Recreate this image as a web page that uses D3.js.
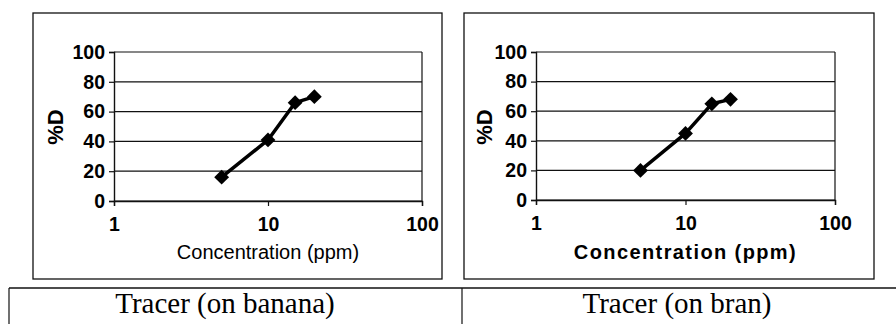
<!DOCTYPE html>
<html>
<head>
<meta charset="utf-8">
<script src="https://cdn.jsdelivr.net/npm/d3@7"></script>
<style>
body { margin: 0; background: #fff; }
svg { display: block; }
</style>
</head>
<body>
<div id="chart"></div>
<script>
// values
var concentration = [5, 10, 15, 20];
var bananaD = [16, 41, 66, 70];
var branD = [20, 45, 65, 68];
var xTicks = [1, 10, 100];
var yTicks = [0, 20, 40, 60, 80, 100];
var panelTitles = ["Tracer (on banana)", "Tracer (on bran)"];

var W = 896, H = 324;
var svg = d3.select("#chart").append("svg").attr("width", W).attr("height", H);

function drawPanel(cfg) {
	var g = svg.append("g");

	// outer chart box
	g.append("rect").attr("x", cfg.box[0]).attr("y", 13)
		.attr("width", cfg.box[1] - cfg.box[0]).attr("height", 279 - 13)
		.attr("fill", "none").attr("stroke", "#111").attr("stroke-width", 1.3);

	var xScale = d3.scaleLog().domain([1, 100]).range([cfg.left, cfg.right]);
	var yScale = d3.scaleLinear().domain([0, 100]).range([cfg.bottom, 52]);

	// gridlines
	g.append("g").selectAll("line").data(yTicks).enter().append("line")
		.attr("x1", cfg.left).attr("x2", cfg.right)
		.attr("y1", d => yScale(d)).attr("y2", d => yScale(d))
		.attr("stroke", "#111").attr("stroke-width", 1.2);
	// right border of plot area
	g.append("line").attr("x1", cfg.right).attr("x2", cfg.right)
		.attr("y1", 52).attr("y2", cfg.bottom).attr("stroke", "#111").attr("stroke-width", 1.2);

	var yAxis = g.append("g").attr("transform", "translate(" + cfg.left + ",0)")
		.call(d3.axisLeft(yScale).tickValues(yTicks).tickSize(5).tickPadding(4));
	var xAxis = g.append("g").attr("transform", "translate(0," + cfg.bottom + ")")
		.call(d3.axisBottom(xScale).tickValues(xTicks).tickFormat(d3.format("d")).tickSize(5).tickPadding(11));
	[yAxis, xAxis].forEach(function(a) {
		a.select(".domain").attr("stroke", "#111").attr("stroke-width", 1.4);
		a.selectAll(".tick line").attr("stroke", "#111").attr("stroke-width", 1.2);
		a.selectAll("text").attr("fill", "#000")
			.style("font-family", "'Liberation Sans', Arial, sans-serif").style("font-size", "19.5px")
			.style("font-weight", "bold");
	});

	// axis titles
	g.append("text").attr("transform", "translate(" + (cfg.ytitleX) + ",127) rotate(-90)")
		.attr("text-anchor", "middle").attr("dy", "0.35em")
		.style("font-family", "'Liberation Sans', Arial, sans-serif").style("font-size", "22px")
		.style("font-weight", "bold").text("%D");
	g.append("text").attr("x", xScale(10)).attr("y", 259)
		.attr("text-anchor", "middle")
		.style("font-family", "'Liberation Sans', Arial, sans-serif").style("font-size", "20px")
		.style("font-weight", cfg.boldTitle ? "bold" : "normal")
		.style("letter-spacing", cfg.boldTitle ? "1.4px" : "0px")
		.text("Concentration (ppm)");

	var pts = concentration.map((c, i) => [c, cfg.values[i]]);
	var line = d3.line().x(d => xScale(d[0])).y(d => yScale(d[1]));
	g.append("path").attr("d", line(pts)).attr("fill", "none")
		.attr("stroke", "#000").attr("stroke-width", 3.5).attr("stroke-linejoin", "round");

	var sym = d3.symbol().type(d3.symbolSquare).size(110);
	g.append("g").selectAll("path").data(pts).enter().append("path")
		.attr("d", sym)
		.attr("transform", d => "translate(" + xScale(d[0]) + "," + yScale(d[1]) + ") rotate(45)")
		.attr("fill", "#000");
}

drawPanel({ box: [33, 442], left: 114, right: 422, bottom: 201, ytitleX: 55, values: bananaD, boldTitle: false });
drawPanel({ box: [464, 874], left: 536, right: 835, bottom: 200, ytitleX: 484, values: branD, boldTitle: true });

// caption table
var table = svg.append("g");
table.append("line").attr("x1", 9).attr("x2", W).attr("y1", 288).attr("y2", 288)
	.attr("stroke", "#111").attr("stroke-width", 1.6);
table.append("line").attr("x1", 9).attr("x2", 9).attr("y1", 288).attr("y2", H)
	.attr("stroke", "#111").attr("stroke-width", 1.2);
table.append("line").attr("x1", 462).attr("x2", 462).attr("y1", 288).attr("y2", H)
	.attr("stroke", "#111").attr("stroke-width", 1.2);
table.selectAll("text").data(panelTitles).enter().append("text")
	.attr("x", (d, i) => i === 0 ? 225 : 677).attr("y", 313)
	.attr("text-anchor", "middle")
	.style("font-family", "'Liberation Serif', 'Times New Roman', serif").style("font-size", "29px")
	.text(d => d);
</script>
</body>
</html>
